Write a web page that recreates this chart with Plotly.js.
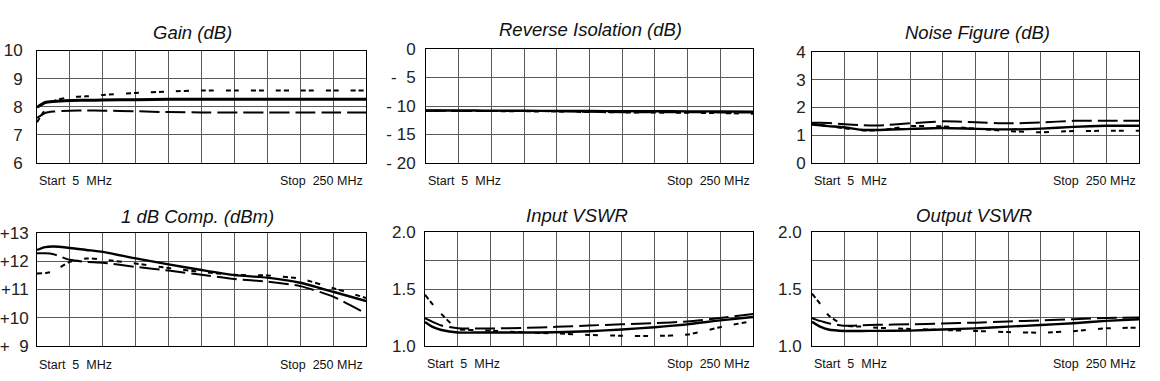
<!DOCTYPE html>
<html>
<head>
<meta charset="utf-8">
<script src="https://cdn.plot.ly/plotly-3.0.1.min.js"></script>
<style>
html,body{margin:0;padding:0;background:#fff;}
#chart{width:1160px;height:381px;}
</style>
</head>
<body>
<div id="chart"></div>
<script>
// Frequency nodes (MHz), sweep 5 .. 250 MHz
const freqMHz = [5, 11.1, 17.3, 29.5, 41.8, 54, 78.5, 103, 127.5, 152, 176.5, 201, 225.5, 250];

// Gain (dB)
const gainSolid = [7.98, 8.15, 8.19, 8.22, 8.23, 8.24, 8.25, 8.27, 8.27, 8.27, 8.27, 8.27, 8.27, 8.27];
const gainDash  = [7.60, 7.78, 7.83, 7.86, 7.87, 7.86, 7.84, 7.81, 7.80, 7.80, 7.80, 7.80, 7.80, 7.80];
const gainDot   = [7.45, 7.90, 8.20, 8.34, 8.37, 8.42, 8.49, 8.54, 8.58, 8.58, 8.58, 8.58, 8.58, 8.58];

// Reverse Isolation (dB)
const isoSolid = [-10.80, -10.80, -10.80, -10.80, -10.80, -10.82, -10.84, -10.86, -10.88, -10.90, -10.92, -10.94, -10.96, -10.98];
const isoDash  = [-10.85, -10.85, -10.85, -10.86, -10.87, -10.88, -10.88, -10.92, -11.02, -11.08, -11.08, -11.10, -11.12, -11.12];
const isoDot   = [-10.85, -10.85, -10.86, -10.87, -10.88, -10.90, -10.93, -10.98, -11.05, -11.12, -11.15, -11.20, -11.25, -11.35];

// Noise Figure (dB)
const nfSolid = [1.39, 1.36, 1.33, 1.28, 1.20, 1.19, 1.23, 1.26, 1.23, 1.21, 1.24, 1.30, 1.34, 1.345];
const nfDash  = [1.45, 1.45, 1.44, 1.40, 1.36, 1.35, 1.43, 1.50, 1.47, 1.43, 1.46, 1.52, 1.525, 1.525];
const nfDot   = [1.42, 1.38, 1.33, 1.25, 1.18, 1.17, 1.33, 1.32, 1.24, 1.15, 1.11, 1.15, 1.16, 1.16];

// 1 dB Compression (dBm)
const compSolid = [12.40, 12.50, 12.52, 12.47, 12.40, 12.33, 12.10, 11.89, 11.69, 11.51, 11.42, 11.24, 10.92, 10.59];
const compDash  = [12.28, 12.28, 12.25, 12.05, 11.98, 11.95, 11.80, 11.67, 11.52, 11.37, 11.28, 11.12, 10.75, 10.15];
const compDot   = [11.57, 11.58, 11.65, 11.98, 12.10, 12.06, 11.92, 11.76, 11.62, 11.52, 11.50, 11.38, 11.05, 10.70];

// Input VSWR
const inSolid = [1.21, 1.165, 1.14, 1.118, 1.118, 1.118, 1.118, 1.12, 1.13, 1.145, 1.165, 1.19, 1.225, 1.255];
const inDash  = [1.245, 1.21, 1.18, 1.155, 1.153, 1.153, 1.159, 1.168, 1.18, 1.19, 1.20, 1.215, 1.245, 1.28];
const inDot   = [1.45, 1.36, 1.28, 1.15, 1.14, 1.135, 1.12, 1.11, 1.097, 1.09, 1.088, 1.10, 1.165, 1.22];

// Output VSWR
const outSolid = [1.213, 1.17, 1.145, 1.132, 1.132, 1.133, 1.135, 1.145, 1.155, 1.17, 1.184, 1.20, 1.22, 1.234];
const outDash  = [1.245, 1.22, 1.20, 1.178, 1.182, 1.186, 1.19, 1.197, 1.205, 1.215, 1.225, 1.235, 1.245, 1.251];
const outDot   = [1.46, 1.37, 1.27, 1.18, 1.17, 1.16, 1.15, 1.14, 1.132, 1.122, 1.117, 1.13, 1.155, 1.16];

// Titles and tick labels
const panelTitles = ['Gain (dB)', 'Reverse Isolation (dB)', 'Noise Figure (dB)', '1 dB Comp. (dBm)', 'Input VSWR', 'Output VSWR'];
const startLabel = 'Start\u00a0\u00a05\u00a0\u00a0MHz';
const stopLabel = 'Stop\u00a0\u00a0250 MHz';
const gainTickVals = [10, 9, 8, 7, 6];
const gainTickText = ['10', '9', '8', '7', '6'];
const isoTickVals = [0, -5, -10, -15, -20];
const isoTickText = ['0', '-\u00a0\u00a05', '-\u00a010', '-\u00a015', '-\u00a020'];
const nfTickVals = [4, 3, 2, 1, 0];
const nfTickText = ['4', '3', '2', '1', '0'];
const compTickVals = [13, 12, 11, 10, 9];
const compTickText = ['+13', '+12', '+11', '+10', '+\u00a0\u00a09'];
const vswrTickVals = [2.0, 1.75, 1.5, 1.25, 1.0];
const vswrTickText = ['2.0', '', '1.5', '', '1.0'];

const W = 1160, H = 381;
// panel pixel boxes: [left, right, top, bottom]
const boxes = [
  [37, 366, 50.5, 163],
  [426, 753, 49, 163],
  [812, 1139, 52, 163],
  [37, 366, 233, 346],
  [425, 753, 232, 346],
  [812, 1139, 232, 346]
];
const yRanges = [[6, 10], [-20, 0], [0, 4], [9, 13], [1, 2], [1, 2]];
const yTicks = [
  [gainTickVals, gainTickText], [isoTickVals, isoTickText], [nfTickVals, nfTickText],
  [compTickVals, compTickText], [vswrTickVals, vswrTickText], [vswrTickVals, vswrTickText]
];
const tickGap = [10, 6, 2, 4, 5, 6];
const series = [
  [gainSolid, gainDash, gainDot],
  [isoSolid, isoDash, isoDot],
  [nfSolid, nfDash, nfDot],
  [compSolid, compDash, compDot],
  [inSolid, inDash, inDot],
  [outSolid, outDash, outDot]
];
const titlePos = [[192, 33], [590, 29], [977, 32], [197, 217], [577, 215], [974, 215]];
const startY = [180.5, 180.5, 180.5, 364.5, 364, 364];

const FONT = 'Liberation Sans, Arial, sans-serif';
const gridCol = '#5a5a5a';
const traces = [];
const layout = {
  width: W, height: H,
  margin: {l: 0, r: 0, t: 0, b: 0},
  paper_bgcolor: '#fff', plot_bgcolor: '#fff',
  showlegend: false,
  font: {family: FONT, color: '#222'},
  annotations: []
};

const styles = [
  {color: '#000', width: 2.4, dash: 'solid'},
  {color: '#000', width: 2.0, dash: '20px,6px'},
  {color: '#000', width: 2.0, dash: '5px,3px,5px,12px'}
];

boxes.forEach((b, i) => {
  const n = i + 1;
  const xa = 'xaxis' + (n === 1 ? '' : n);
  const ya = 'yaxis' + (n === 1 ? '' : n);
  layout[xa] = {
    domain: [b[0] / W, b[1] / W],
    range: [5, 250], tick0: 5, dtick: 24.5,
    showticklabels: false, ticks: '',
    showgrid: true, gridcolor: gridCol, gridwidth: 1,
    zeroline: false, showline: true, mirror: true, linecolor: '#000', linewidth: 1,
    anchor: 'y' + (n === 1 ? '' : n), fixedrange: true
  };
  layout[ya] = {
    domain: [1 - b[3] / H, 1 - b[2] / H],
    range: yRanges[i],
    tickmode: 'array', tickvals: yTicks[i][0], ticktext: yTicks[i][1],
    ticks: 'outside', ticklen: tickGap[i], tickcolor: 'rgba(0,0,0,0)',
    tickfont: {family: FONT, size: 17, color: '#222'},
    showgrid: true, gridcolor: gridCol, gridwidth: 1,
    zeroline: false, showline: true, mirror: true, linecolor: '#000', linewidth: 1,
    anchor: 'x' + (n === 1 ? '' : n), fixedrange: true
  };
  series[i].forEach((vals, k) => {
    traces.push({
      type: 'scatter', mode: 'lines',
      x: freqMHz, y: vals,
      xaxis: 'x' + (n === 1 ? '' : n), yaxis: 'y' + (n === 1 ? '' : n),
      line: {color: styles[k].color, width: (i === 0 && k === 0) ? 3 : styles[k].width, dash: styles[k].dash, shape: 'spline', smoothing: 0.6},
      hoverinfo: 'skip'
    });
  });
  layout.annotations.push({
    xref: 'paper', yref: 'paper',
    x: titlePos[i][0] / W, y: 1 - titlePos[i][1] / H,
    xanchor: 'center', yanchor: 'middle', showarrow: false,
    text: '<i>' + panelTitles[i] + '</i>',
    font: {family: FONT, size: 18.5, color: '#111'}
  });
  layout.annotations.push({
    xref: 'paper', yref: 'paper',
    x: b[0] / W, y: 1 - startY[i] / H,
    xanchor: 'left', yanchor: 'middle', showarrow: false,
    text: startLabel, font: {family: FONT, size: 12.5, color: '#111'}
  });
  layout.annotations.push({
    xref: 'paper', yref: 'paper',
    x: (b[1] - 1) / W, y: 1 - startY[i] / H,
    xanchor: 'right', yanchor: 'middle', showarrow: false,
    text: stopLabel, font: {family: FONT, size: 12.5, color: '#111'}
  });
});

Plotly.newPlot('chart', traces, layout, {staticPlot: true, displayModeBar: false});
</script>
</body>
</html>
